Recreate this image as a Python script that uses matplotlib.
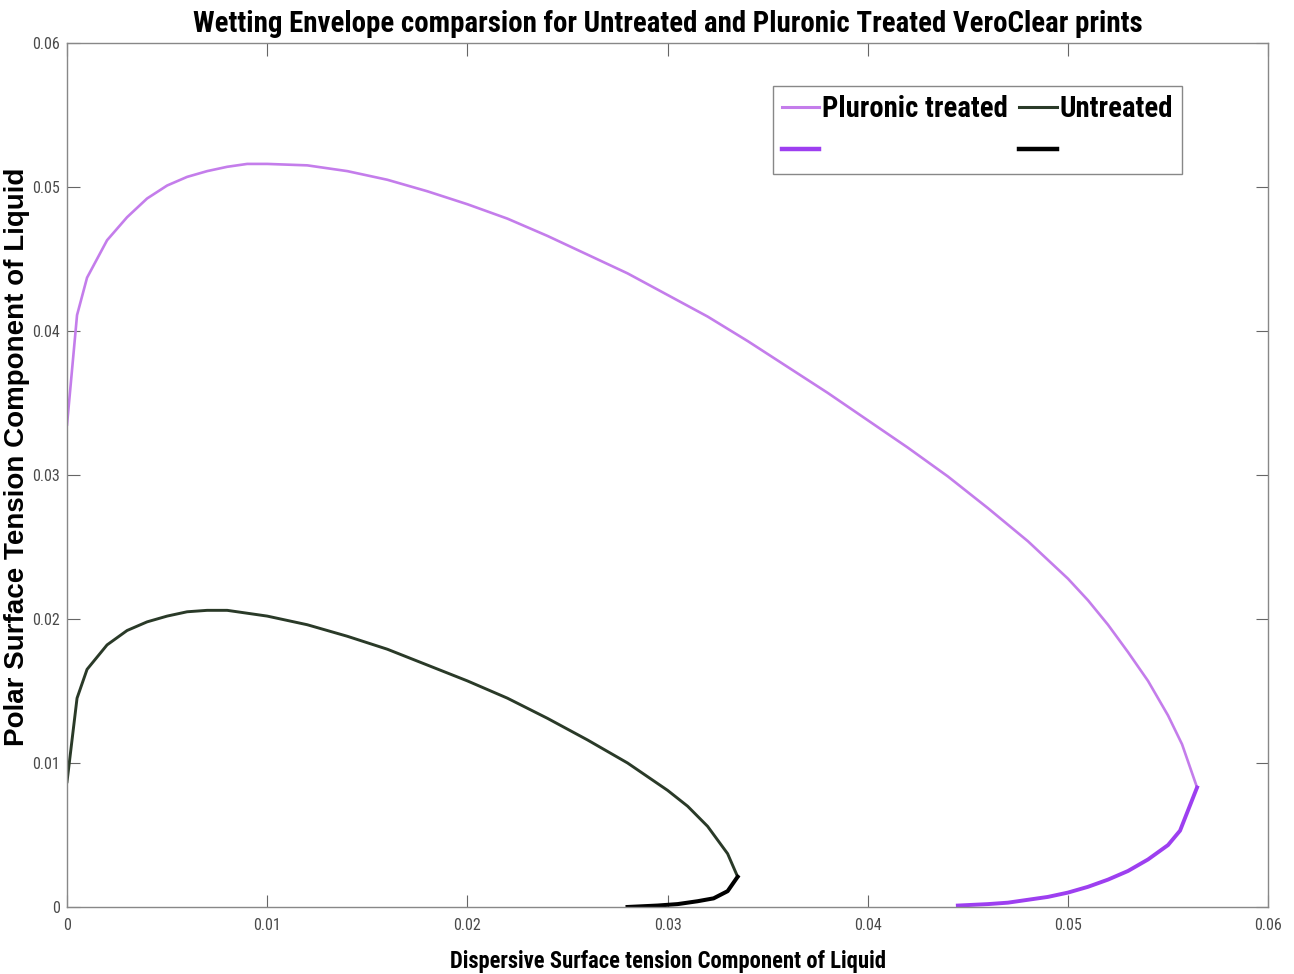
import matplotlib
matplotlib.use('Agg')
import matplotlib.pyplot as plt
from matplotlib.lines import Line2D

# Pluronic treated envelope (upper and lower branch)
pl_upper_x = [0.0, 0.0005, 0.001, 0.002, 0.003, 0.004, 0.005, 0.006, 0.007, 0.008, 0.009, 0.010,
              0.012, 0.014, 0.016, 0.018, 0.020, 0.022, 0.024, 0.026, 0.028, 0.030, 0.032, 0.034,
              0.036, 0.038, 0.040, 0.042, 0.044, 0.046, 0.048, 0.050, 0.051, 0.052, 0.053, 0.054,
              0.055, 0.0557, 0.05645]
pl_upper_y = [0.0335, 0.0411, 0.0437, 0.0463, 0.0479, 0.0492, 0.0501, 0.0507, 0.0511, 0.0514,
              0.0516, 0.0516, 0.0515, 0.0511, 0.0505, 0.0497, 0.0488, 0.0478, 0.0466, 0.0453,
              0.0440, 0.0425, 0.0410, 0.0393, 0.0375, 0.0357, 0.0338, 0.0319, 0.0299, 0.0277,
              0.0254, 0.0228, 0.0213, 0.0196, 0.0177, 0.0157, 0.0133, 0.0113, 0.0083]
pl_lower_x = [0.05645, 0.0556, 0.055, 0.054, 0.053, 0.052, 0.051, 0.050, 0.049, 0.048, 0.047,
              0.046, 0.0445]
pl_lower_y = [0.0083, 0.0053, 0.0043, 0.0033, 0.0025, 0.0019, 0.0014, 0.0010, 0.0007, 0.0005,
              0.0003, 0.0002, 0.0001]

# Untreated envelope
un_upper_x = [0.0, 0.0005, 0.001, 0.002, 0.003, 0.004, 0.005, 0.006, 0.007, 0.008, 0.009, 0.010,
              0.012, 0.014, 0.016, 0.018, 0.020, 0.022, 0.024, 0.026, 0.028, 0.030, 0.031, 0.032,
              0.033, 0.0335]
un_upper_y = [0.0087, 0.0145, 0.0165, 0.0182, 0.0192, 0.0198, 0.0202, 0.0205, 0.0206, 0.0206,
              0.0204, 0.0202, 0.0196, 0.0188, 0.0179, 0.0168, 0.0157, 0.0145, 0.0131, 0.0116,
              0.0100, 0.0081, 0.0070, 0.0056, 0.0037, 0.0021]
un_lower_x = [0.0335, 0.0330, 0.0323, 0.0315, 0.0305, 0.0295, 0.0280]
un_lower_y = [0.0021, 0.0011, 0.0006, 0.0004, 0.0002, 0.0001, 0.0]

ticks = [0, 0.01, 0.02, 0.03, 0.04, 0.05, 0.06]
tick_labels = ['0', '0.01', '0.02', '0.03', '0.04', '0.05', '0.06']

narrow = ['Roboto Condensed', 'Liberation Sans Narrow', 'DejaVu Sans Condensed', 'Liberation Sans']
wide = ['Liberation Sans', 'DejaVu Sans']

c_pl_up = '#C47DEB'
c_pl_lo = '#9D3FF0'
c_un_up = '#2A3A28'
c_un_lo = '#000000'

fig = plt.figure(figsize=(12.94, 9.74), dpi=100)
ax = fig.add_axes([0.0518, 0.0688, 0.9282, 0.8871])

ax.plot(pl_upper_x, pl_upper_y, color=c_pl_up, lw=1.9, solid_joinstyle='round')
ax.plot(pl_lower_x, pl_lower_y, color=c_pl_lo, lw=2.8, solid_joinstyle='round')
ax.plot(un_upper_x, un_upper_y, color=c_un_up, lw=2.1, solid_joinstyle='round')
ax.plot(un_lower_x, un_lower_y, color=c_un_lo, lw=2.9, solid_joinstyle='round')

ax.set_xlim(0, 0.06)
ax.set_ylim(0, 0.06)
ax.set_xticks(ticks)
ax.set_xticklabels(tick_labels)
ax.set_yticks(ticks)
ax.set_yticklabels(tick_labels)
ax.tick_params(direction='in', length=9, width=0.8, color='#666666', labelcolor='#4a4a4a',
               top=True, right=True, labelsize=11.5)
ax.tick_params(axis='x', pad=8)
ax.tick_params(axis='y', pad=5)
for lab in ax.get_xticklabels() + ax.get_yticklabels():
    lab.set_family(narrow)
for sp in ax.spines.values():
    sp.set_color('#888888')
    sp.set_linewidth(1.0)

ax.set_title('Wetting Envelope comparsion for Untreated and Pluronic Treated VeroClear prints',
             family=narrow, fontweight='bold', fontsize=20.8, pad=8)
ax.set_xlabel('Dispersive Surface tension Component of Liquid', family=narrow,
              fontweight='bold', fontsize=16.3, labelpad=12)
ax.set_ylabel('Polar Surface Tension Component of Liquid', family=wide,
              fontweight='bold', fontsize=20)
ax.yaxis.set_label_coords(-0.031, 0.521)

handles = [Line2D([], [], color=c_pl_up, lw=2.2), Line2D([], [], color=c_pl_lo, lw=3.2),
           Line2D([], [], color=c_un_up, lw=2.2), Line2D([], [], color=c_un_lo, lw=3.2)]
labels = ['Pluronic treated', '', 'Untreated', '']
leg = ax.legend(handles, labels, ncol=2, loc='upper right', bbox_to_anchor=(0.928, 0.95),
                borderaxespad=0, prop={'family': narrow, 'weight': 'bold', 'size': 20.7},
                handlelength=1.3, handletextpad=0.1, columnspacing=0.4, fancybox=False,
                framealpha=1, labelspacing=0.5, borderpad=0.3)
leg.get_frame().set_edgecolor('#888888')
leg.get_frame().set_linewidth(1.0)

fig.savefig('out.png', dpi=100)
